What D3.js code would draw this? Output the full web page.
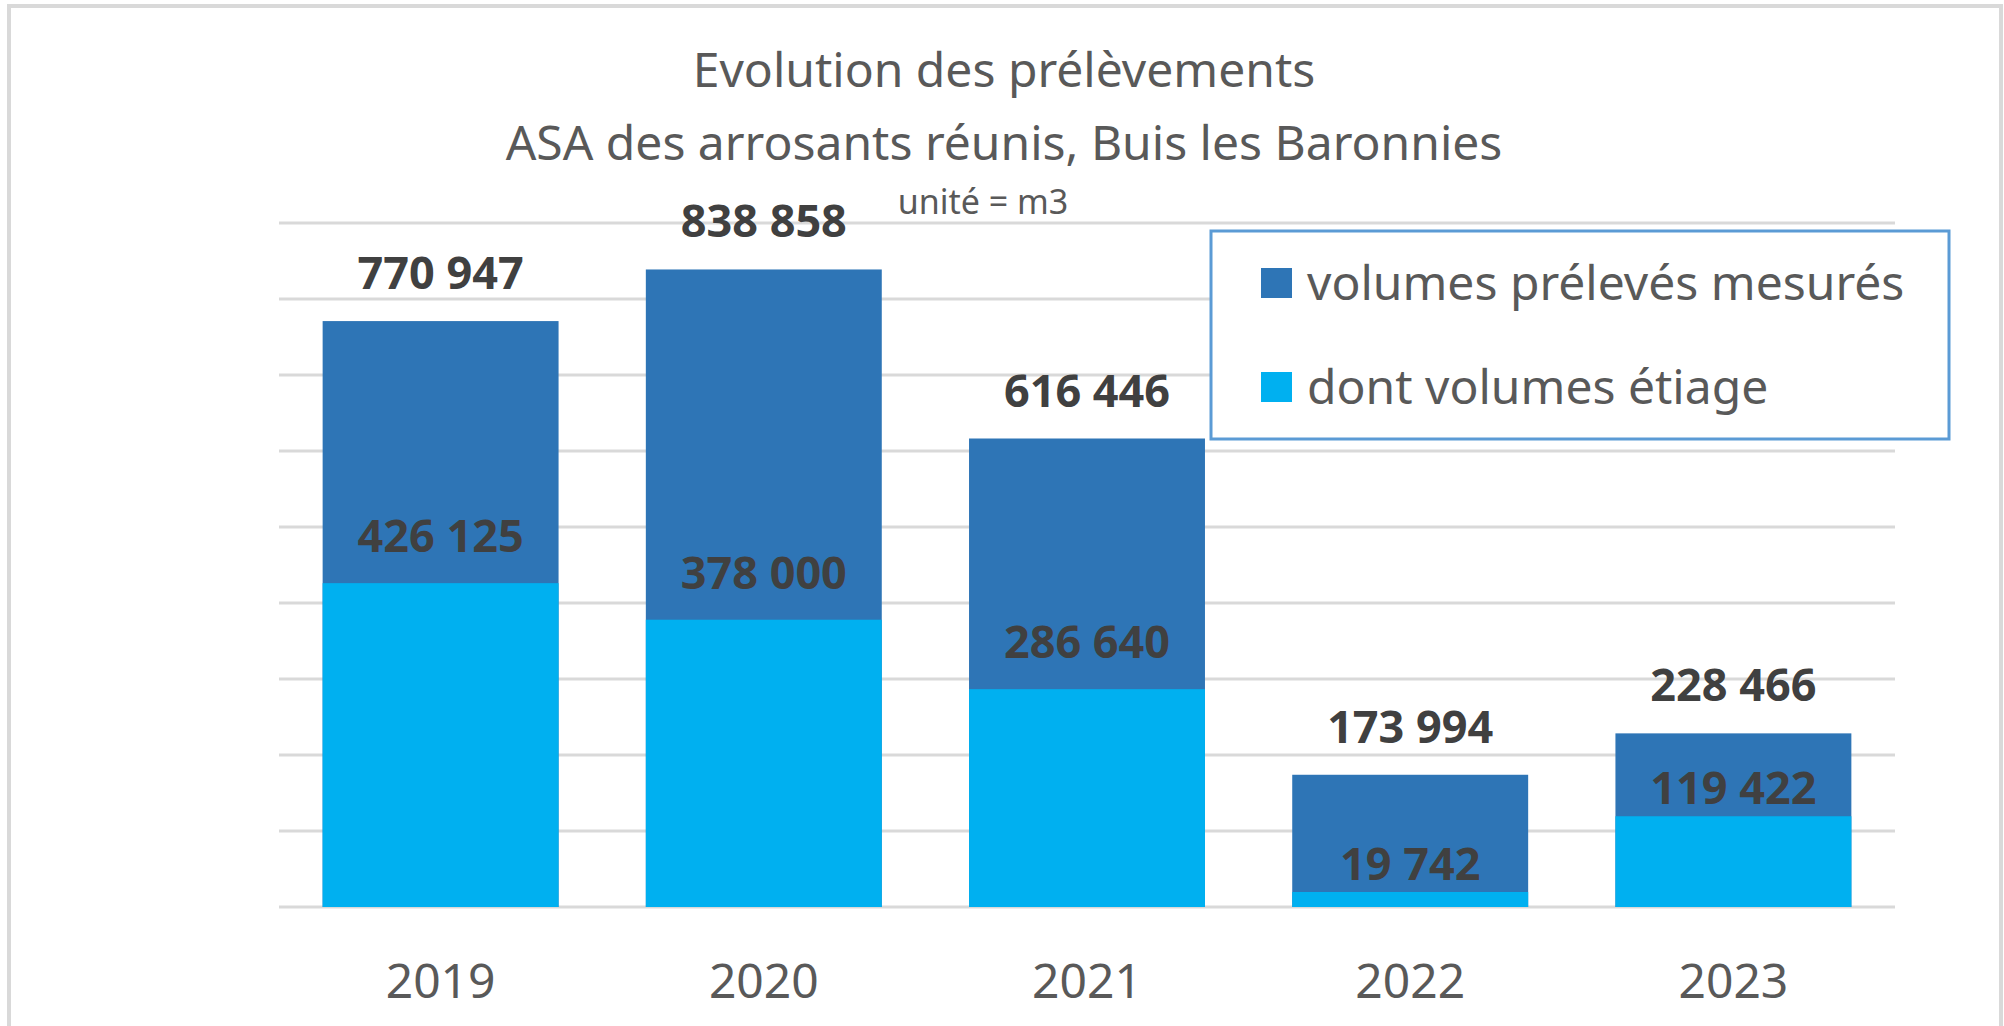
<!DOCTYPE html>
<html>
<head>
<meta charset="utf-8">
<script src="https://cdn.jsdelivr.net/npm/d3@7"></script>
<style>
  body { margin: 0; background: #fff; }
  text { font-family: "Noto Sans", "Open Sans", sans-serif; }
</style>
</head>
<body>
<div class="chart"></div>
<script>
const WIDTH = 2004, HEIGHT = 1026;
const YEARS = ["2019", "2020", "2021", "2022", "2023"];
const TOTAL = [770947, 838858, 616446, 173994, 228466];
const ETIAGE = [426125, 378000, 286640, 19742, 119422];
const Y_TICKS = [0, 100000, 200000, 300000, 400000, 500000, 600000, 700000, 800000, 900000];
const SERIES = ["volumes prélevés mesurés", "dont volumes étiage"];
const COLORS = ["#2E75B6", "#00B0F0"];
const TITLE = ["Evolution des prélèvements", "ASA des arrosants réunis, Buis les Baronnies"];
const SUBTITLE = "unité = m3";

const LEFT = 279, RIGHT = 1895, TOP = 223, BOTTOM = 907;

const fmt = v => d3.format(",")(v).replace(/,/g, " ");

const svg = d3.select(".chart").append("svg").attr("width", WIDTH).attr("height", HEIGHT);

// chart frame (no bottom edge visible)
svg.append("path")
  .attr("d", `M9,${HEIGHT} V6 H2001 V${HEIGHT}`)
  .attr("fill", "none").attr("stroke", "#D9D9D9").attr("stroke-width", 4);

// Scales
let x = d3.scaleBand().domain(YEARS).range([LEFT, RIGHT]).paddingInner(0.27).paddingOuter(0.135);
let y = d3.scaleLinear().domain([0, 900000]).range([BOTTOM, TOP]);

// gridlines
svg.append("g").selectAll("line").data(Y_TICKS).join("line")
  .attr("x1", LEFT).attr("x2", RIGHT)
  .attr("y1", d => y(d)).attr("y2", d => y(d))
  .attr("stroke", "#D9D9D9").attr("stroke-width", 3);

// bars: total behind, etiage in front (overlapped)
let rows = YEARS.map((yr, i) => ({ yr, total: TOTAL[i], etiage: ETIAGE[i] }));

svg.append("g").selectAll("rect").data(rows).join("rect")
  .attr("x", d => x(d.yr)).attr("width", x.bandwidth())
  .attr("y", d => y(d.total)).attr("height", d => y(0) - y(d.total))
  .attr("fill", COLORS[0]);

svg.append("g").selectAll("rect").data(rows).join("rect")
  .attr("x", d => x(d.yr)).attr("width", x.bandwidth())
  .attr("y", d => y(d.etiage)).attr("height", d => y(0) - y(d.etiage))
  .attr("fill", COLORS[1]);

// value labels
svg.append("g").selectAll("text").data(rows).join("text")
  .attr("x", d => x(d.yr) + x.bandwidth() / 2)
  .attr("y", d => y(d.total) - 32)
  .attr("text-anchor", "middle").attr("font-size", 45).attr("font-weight", "bold")
  .attr("fill", "#404040").text(d => fmt(d.total));

svg.append("g").selectAll("text").data(rows).join("text")
  .attr("x", d => x(d.yr) + x.bandwidth() / 2)
  .attr("y", d => y(d.etiage) - (d.etiage < 150000 ? 12 : 31))
  .attr("text-anchor", "middle").attr("font-size", 45).attr("font-weight", "bold")
  .attr("fill", "#404040").text(d => fmt(d.etiage));

// X-Axis
let xAxis = svg.append("g").attr("transform", `translate(0, ${BOTTOM})`)
  .call(d3.axisBottom(x).tickSize(0).tickPadding(0));
xAxis.select(".domain").remove();
xAxis.selectAll("text").attr("font-size", 48).attr("fill", "#595959")
  .attr("dy", 0).attr("y", 91).style("font-family", '"Noto Sans", sans-serif');

// Titles
svg.append("g").selectAll("text").data(TITLE).join("text")
  .attr("x", 1004).attr("y", (d, i) => i == 0 ? 87 : 160)
  .attr("text-anchor", "middle").attr("font-size", 48).attr("fill", "#595959")
  .text(d => d);

svg.append("text").attr("x", 983).attr("y", 214).attr("text-anchor", "middle")
  .attr("font-size", 34).attr("fill", "#595959").text(SUBTITLE);

// Legend
let legend = svg.append("g");
legend.append("rect").attr("x", 1211).attr("y", 231).attr("width", 738).attr("height", 208)
  .attr("fill", "#fff").attr("stroke", "#5B9BD5").attr("stroke-width", 3);
let item = legend.selectAll("g").data(SERIES).join("g")
  .attr("transform", (d, i) => `translate(1261, ${i == 0 ? 268 : 372})`);
item.append("rect").attr("width", 31).attr("height", 30).attr("fill", (d, i) => COLORS[i]);
item.append("text").attr("x", 46).attr("y", 32).attr("font-size", 48).attr("fill", "#595959").text(d => d);
</script>
</body>
</html>
